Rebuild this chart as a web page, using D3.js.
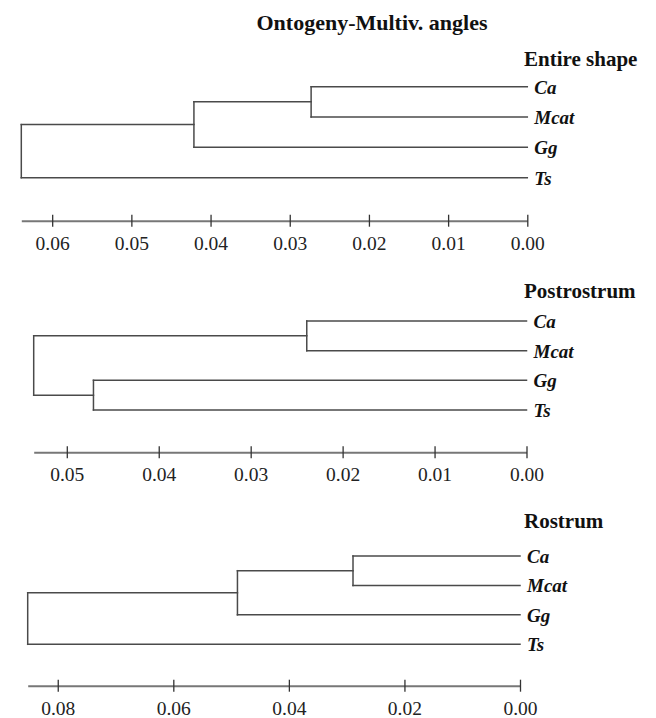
<!DOCTYPE html>
<html>
<head>
<meta charset="utf-8">
<script src="https://cdn.jsdelivr.net/npm/d3@7"></script>
<style>
  body { margin: 0; background: #fff; }
</style>
</head>
<body>
<div id="dendro"></div>
<script>
// leaves (top to bottom) and panel titles
var leaves = ["Ca", "Mcat", "Gg", "Ts"];
var mainTitle = "Ontogeny-Multiv. angles";
var panelTitles = ["Entire shape", "Postrostrum", "Rostrum"];

// tree topologies (nested arrays of leaves)
var entireTopo = [[["Ca", "Mcat"], "Gg"], "Ts"];
var postTopo = [["Ca", "Mcat"], ["Gg", "Ts"]];
var rostTopo = [[["Ca", "Mcat"], "Gg"], "Ts"];

// merge heights, in post-order of internal nodes
var entireHeights = [0.0273, 0.0421, 0.0639];
var postHeights = [0.0239, 0.0471, 0.0536];
var rostHeights = [0.0289, 0.0489, 0.0852];

// axis ticks
var entireTicks = [0.06, 0.05, 0.04, 0.03, 0.02, 0.01, 0.00];
var postTicks = [0.05, 0.04, 0.03, 0.02, 0.01, 0.00];
var rostTicks = [0.08, 0.06, 0.04, 0.02, 0.00];

var serif = "'Liberation Serif', Tinos, 'Times New Roman', Times, 'DejaVu Serif', serif";

var width = 656, height = 718;

var svg = d3.select("#dendro")
    .append("svg")
    .attr("width", width)
    .attr("height", height)
    .style("font-family", serif);

// main title
svg.append("text")
    .attr("x", 372)
    .attr("y", 30)
    .attr("text-anchor", "middle")
    .attr("font-family", serif)
    .style("font-size", "22px")
    .style("font-weight", "bold")
    .attr("fill", "#111")
    .text(mainTitle);

// layout of the three panels
var panels = [
  { title: panelTitles[0], topo: entireTopo, heights: entireHeights, ticks: entireTicks,
    left: 21.3, right: 527.3, top: 86.7, bottom: 177.7, axisY: 220.7, titleY: 66 },
  { title: panelTitles[1], topo: postTopo, heights: postHeights, ticks: postTicks,
    left: 33.7, right: 526.5, top: 321, bottom: 410, axisY: 452.3, titleY: 297.7 },
  { title: panelTitles[2], topo: rostTopo, heights: rostHeights, ticks: rostTicks,
    left: 27.7, right: 520, top: 556, bottom: 644.3, axisY: 685.7, titleY: 528.3 }
];

panels.forEach(function(p) {
  var g = svg.append("g");

  var rootH = d3.max(p.heights);

  // x: distance (root at left, 0 at right)
  var x = d3.scaleLinear()
      .domain([rootH, 0])
      .range([p.left, p.right]);

  // y: one row per leaf
  var y = d3.scalePoint()
      .domain(leaves)
      .range([p.top, p.bottom]);

  // build tree and assign heights / positions
  var root = d3.hierarchy(p.topo, function(d) { return Array.isArray(d) ? d : null; });
  var i = 0;
  root.eachAfter(function(n) {
    if (n.children) {
      n.h = p.heights[i++];
      n.yy = d3.mean(n.children, function(c) { return c.yy; });
    } else {
      n.h = 0;
      n.yy = y(n.data);
    }
  });

  // elbow links
  var segs = [];
  root.each(function(n) {
    if (!n.children) return;
    var ys = n.children.map(function(c) { return c.yy; });
    segs.push([[x(n.h), d3.min(ys)], [x(n.h), d3.max(ys)]]);
    n.children.forEach(function(c) {
      segs.push([[x(n.h), c.yy], [x(c.h), c.yy]]);
    });
  });

  g.append("g")
    .selectAll("line")
    .data(segs)
    .enter()
    .append("line")
      .attr("x1", function(d) { return d[0][0]; })
      .attr("y1", function(d) { return d[0][1]; })
      .attr("x2", function(d) { return d[1][0]; })
      .attr("y2", function(d) { return d[1][1]; })
      .attr("stroke", "#4a4a4a")
      .attr("stroke-width", 1.5)
      .attr("stroke-linecap", "square");

  // leaf labels
  g.append("g")
    .selectAll("text")
    .data(root.leaves())
    .enter()
    .append("text")
      .attr("x", p.right + 7)
      .attr("y", function(d) { return d.yy; })
      .attr("dy", "0.36em")
      .attr("font-family", serif)
      .attr("fill", "#111")
      .style("font-size", "19px")
      .style("font-weight", "bold")
      .style("font-style", "italic")
      .text(function(d) { return d.data; });

  // panel title
  g.append("text")
    .attr("x", 524)
    .attr("y", p.titleY)
    .attr("font-family", serif)
    .attr("fill", "#111")
    .style("font-size", "21px")
    .style("font-weight", "bold")
    .text(p.title);

  // scale axis
  var ax = g.append("g")
    .attr("transform", "translate(0," + p.axisY + ")")
    .call(d3.axisBottom(x)
      .tickValues(p.ticks)
      .tickFormat(d3.format(".2f"))
      .tickSizeOuter(0)
      .tickSizeInner(6))
    .attr("font-family", serif);

  ax.select(".domain")
    .attr("stroke", "#777")
    .attr("stroke-width", 2);

  ax.selectAll(".tick line")
    .attr("y1", -6)
    .attr("y2", 6)
    .attr("stroke", "#333")
    .attr("stroke-width", 1.3);

  ax.selectAll(".tick text")
    .attr("y", 29)
    .attr("dy", 0)
    .attr("font-family", serif)
    .attr("font-size", 19.5)
    .attr("fill", "#222");
});
</script>
</body>
</html>
